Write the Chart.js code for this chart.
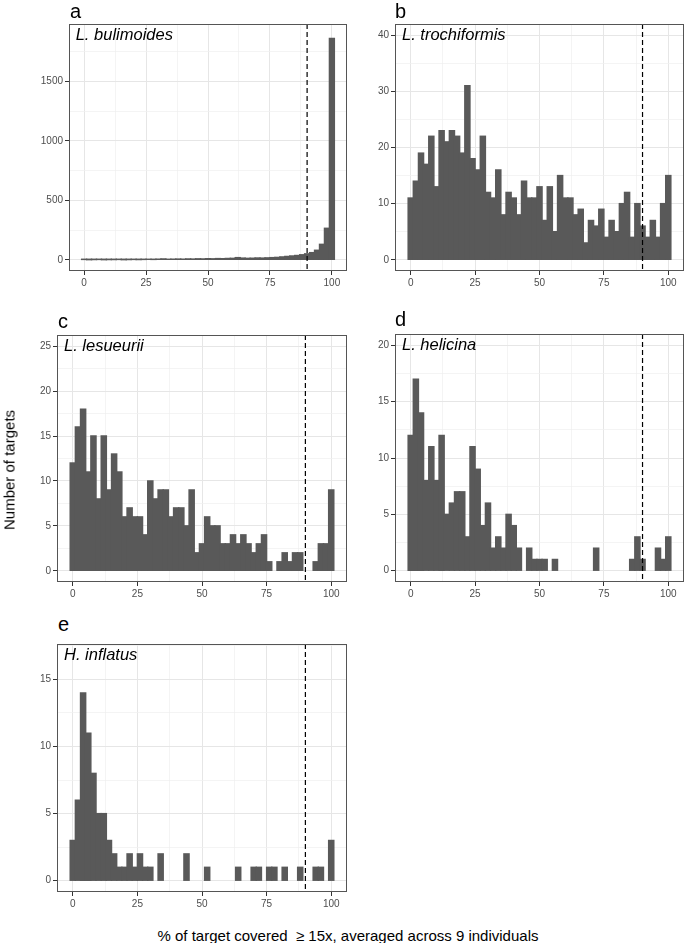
<!DOCTYPE html>
<html>
<head>
<meta charset="utf-8">
<script src="https://cdn.jsdelivr.net/npm/chart.js@4.4.1/dist/chart.umd.min.js"></script>
<style>
  html, body { margin: 0; padding: 0; background: #fff; }
  #page { position: relative; width: 685px; height: 943px; overflow: hidden;
          font-family: 'Liberation Sans', Arial, sans-serif; color: #000; }
  #page canvas { position: absolute; }
  .tag { position: absolute; font-size: 20px; line-height: 20px; }
  .title { position: absolute; font-size: 15px; line-height: 15px; white-space: pre; }
</style>
</head>
<body>
<div id="page">
  <canvas id="pa" width="350" height="279" style="left:0;top:16px"></canvas>
  <canvas id="pb" width="335" height="279" style="left:350px;top:16px"></canvas>
  <canvas id="pc" width="350" height="279" style="left:0;top:327px"></canvas>
  <canvas id="pd" width="335" height="280" style="left:350px;top:326px"></canvas>
  <canvas id="pe" width="350" height="280" style="left:0;top:636px"></canvas>

  <div class="tag" style="left:70px;top:1px">a</div>
  <div class="tag" style="left:395px;top:1px">b</div>
  <div class="tag" style="left:58px;top:311px">c</div>
  <div class="tag" style="left:395px;top:309px">d</div>
  <div class="tag" style="left:58px;top:614px">e</div>

  <div class="title" style="left:9px;top:470px;transform:translate(-50%,-50%) rotate(-90deg)">Number of targets</div>
  <div class="title" style="left:348px;top:935px;transform:translate(-50%,-50%)">% of target covered  ≥ 15x, averaged across 9 individuals</div>
</div>

<script>
// histogram bins (width 2), centred on these values
var binCenters = [0, 2, 4, 6, 8, 10, 12, 14, 16, 18, 20, 22, 24, 26, 28, 30, 32, 34, 36, 38,
  40, 42, 44, 46, 48, 50, 52, 54, 56, 58, 60, 62, 64, 66, 68, 70, 72, 74, 76, 78,
  80, 82, 84, 86, 88, 90, 92, 94, 96, 98, 100];
var xMajorTicks = [0, 25, 50, 75, 100];
var xMinorTicks = [12.5, 37.5, 62.5, 87.5];
var cutoff = 90;

var countsBulimoides = [3, 1, 2, 3, 1, 2, 2, 3, 1, 2,
  3, 2, 3, 4, 3, 5, 7, 4, 5, 6,
  5, 7, 6, 8, 7, 9, 8, 10, 9, 11,
  12, 18, 14, 12, 13, 15, 14, 16, 18, 20,
  24, 28, 32, 36, 42, 50, 60, 80, 130, 265, 1862];
var countsTrochiformis = [11, 14, 19, 17, 22, 13, 23, 21, 23, 22,
  19, 31, 18, 16, 22, 12, 11, 16, 8, 12,
  11, 8, 14, 11, 11, 13, 7, 13, 5, 15,
  11, 11, 8, 9, 3, 7, 6, 9, 4, 7,
  5, 10, 12, 4, 10, 6, 4, 7, 4, 10, 15];
var countsLesueurii = [12, 16, 18, 11, 15, 8, 15, 9, 13, 11,
  6, 7, 6, 6, 4, 10, 8, 9, 9, 6,
  7, 7, 5, 9, 2, 3, 6, 5, 5, 3,
  3, 4, 3, 4, 3, 2, 3, 4, 1, 0,
  1, 2, 1, 2, 2, 0, 0, 1, 3, 3, 9];
var countsHelicina = [12, 17, 14, 8, 11, 8, 12, 5, 6, 7,
  7, 3, 11, 9, 4, 6, 2, 3, 2, 5,
  4, 2, 0, 2, 1, 1, 1, 0, 1, 0,
  0, 0, 0, 0, 0, 0, 2, 0, 0, 0,
  0, 0, 0, 1, 3, 1, 0, 0, 2, 1, 3];
var countsInflatus = [3, 6, 14, 11, 8, 5, 5, 3, 2, 1,
  1, 2, 1, 2, 1, 1, 0, 2, 0, 0,
  0, 0, 2, 0, 0, 0, 1, 0, 0, 0,
  0, 0, 1, 0, 0, 1, 1, 0, 1, 1,
  0, 1, 0, 0, 1, 0, 0, 1, 1, 0, 3];

var yMajorA = [0, 500, 1000, 1500];
var yMinorA = [250, 750, 1250, 1750];
var yMajorB = [0, 10, 20, 30, 40];
var yMinorB = [5, 15, 25, 35];
var yMajorC = [0, 5, 10, 15, 20, 25];
var yMinorC = [2.5, 7.5, 12.5, 17.5, 22.5];
var yMajorD = [0, 5, 10, 15, 20];
var yMinorD = [2.5, 7.5, 12.5, 17.5];
var yMajorE = [0, 5, 10, 15];
var yMinorE = [2.5, 7.5, 12.5, 17.5];

var FONT = "'Liberation Sans', Arial, sans-serif";
var labelX = -3.4;

function setTicks(major, minor) {
  return function (scale) {
    scale.ticks = major.concat(minor)
      .sort(function (a, b) { return a - b; })
      .map(function (v) { return { value: v }; });
  };
}

function isMajor(list, v) { return list.indexOf(v) >= 0; }

function axis(major, minor, extra) {
  var opts = {
    type: 'linear',
    offset: false,
    afterBuildTicks: setTicks(major, minor),
    grid: {
      offset: false,
      drawTicks: true,
      tickLength: 4,
      color: function (c) { return c.tick && isMajor(major, c.tick.value) ? '#E6E6E6' : '#EFEFEF'; },
      lineWidth: function (c) { return c.tick && isMajor(major, c.tick.value) ? 1 : 0.7; },
      tickColor: function (c) { return c.tick && isMajor(major, c.tick.value) ? '#333333' : 'rgba(0,0,0,0)'; },
      tickWidth: 1
    },
    border: { display: false },
    ticks: {
      autoSkip: false,
      maxRotation: 0,
      padding: 2,
      color: '#4D4D4D',
      font: { family: FONT, size: 10 },
      callback: function (v) { return isMajor(major, v) ? String(v) : ''; }
    }
  };
  for (var k in extra) opts[k] = extra[k];
  return opts;
}

var panelDecor = {
  id: 'panelDecor',
  afterDatasetsDraw: function (chart, args, o) {
    var ctx = chart.ctx, area = chart.chartArea;
    var xs = chart.scales.x, ys = chart.scales.y;
    ctx.save();
    var px = xs.getPixelForValue(cutoff);
    ctx.strokeStyle = '#000';
    ctx.lineWidth = 1.2;
    ctx.setLineDash([5, 3]);
    ctx.beginPath();
    ctx.moveTo(px, area.top);
    ctx.lineTo(px, area.bottom);
    ctx.stroke();
    ctx.setLineDash([]);

    ctx.fillStyle = '#000';
    ctx.font = 'italic 16.5px ' + FONT;
    ctx.textAlign = 'left';
    ctx.textBaseline = 'middle';
    ctx.fillText(o.name, xs.getPixelForValue(labelX), ys.getPixelForValue(o.labelY));

    ctx.strokeStyle = '#555555';
    ctx.lineWidth = 1;
    ctx.strokeRect(Math.round(area.left) + 0.5, Math.round(area.top) + 0.5,
      Math.round(area.right - area.left) - 1, Math.round(area.bottom - area.top) - 1);
    ctx.restore();
  }
};

function makePanel(id, counts, name, labelY, yMin, yMax, yMajor, yMinor, axisW, padR) {
  var pts = binCenters.map(function (c, i) {
    return { x: c, y: counts[i] === 0 ? null : counts[i] };
  });
  return new Chart(document.getElementById(id).getContext('2d'), {
    type: 'bar',
    data: {
      datasets: [{
        data: pts,
        backgroundColor: '#595959',
        borderWidth: 0,
        inflateAmount: 0.7,
        barPercentage: 1,
        categoryPercentage: 1
      }]
    },
    options: {
      responsive: false,
      animation: false,
      layout: { padding: { top: 8, right: padR, left: 0, bottom: 0 } },
      plugins: {
        legend: { display: false },
        tooltip: { enabled: false },
        panelDecor: { name: name, labelY: labelY }
      },
      scales: {
        x: axis(xMajorTicks, xMinorTicks, {
          min: -6.1, max: 106.1,
          afterFit: function (s) { s.height = 24; }
        }),
        y: axis(yMajor, yMinor, {
          min: yMin, max: yMax,
          afterFit: function (s) { s.width = axisW; }
        })
      }
    },
    plugins: [panelDecor]
  });
}

makePanel('pa', countsBulimoides, 'L. bulimoides', 1890, -94.5, 1984.5, yMajorA, yMinorA, 69, 3);
makePanel('pb', countsTrochiformis, 'L. trochiformis', 40, -2, 42, yMajorB, yMinorB, 45, 1);
makePanel('pc', countsLesueurii, 'L. lesueurii', 25, -1.25, 26.25, yMajorC, yMinorC, 57, 3);
makePanel('pd', countsHelicina, 'L. helicina', 20, -1, 21, yMajorD, yMinorD, 45, 1);
makePanel('pe', countsInflatus, 'H. inflatus', 16.8, -0.84, 17.64, yMajorE, yMinorE, 57, 3);
</script>
</body>
</html>
